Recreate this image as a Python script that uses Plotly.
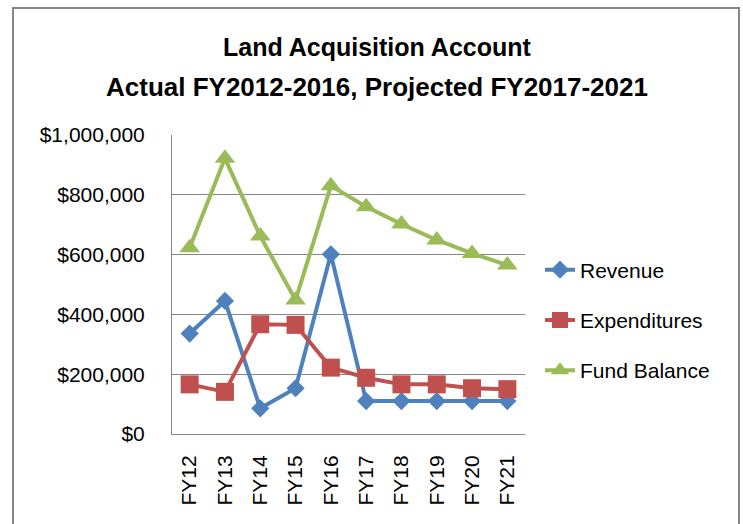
import plotly.graph_objects as go

categories = ["FY12", "FY13", "FY14", "FY15", "FY16", "FY17", "FY18", "FY19", "FY20", "FY21"]
revenue = [336000, 445000, 86000, 153000, 601000, 110000, 110000, 110000, 110000, 110000]
expenditures = [166000, 141000, 367000, 365000, 222000, 188000, 166000, 166000, 153000, 150000]
fund_balance = [623000, 922000, 662000, 448000, 830000, 760000, 702000, 649000, 604000, 565000]

title_line1 = "Land Acquisition Account"
title_line2 = "Actual FY2012-2016, Projected FY2017-2021"

FONT = "Liberation Sans, Arial, sans-serif"
W, H = 743, 524
ML, MR, MT, MB = 172, 218, 135, 90
PW, PH = W - ML - MR, H - MT - MB


def px_x(x):
    return (x - ML) / PW


def px_y(y):
    return (H - MB - y) / PH


fig = go.Figure()
fig.add_trace(go.Scatter(
    x=categories, y=revenue, name="Revenue", mode="lines+markers",
    line=dict(color="#4F81BD", width=4),
    marker=dict(symbol="diamond", size=14, color="#4F81BD"),
    legendgroup="r",
))
fig.add_trace(go.Scatter(
    x=categories, y=expenditures, name="Expenditures", mode="lines+markers",
    line=dict(color="#C0504D", width=4),
    marker=dict(symbol="square", size=18, color="#C0504D"),
    legendgroup="e",
))
fig.add_trace(go.Scatter(
    x=categories, y=fund_balance, name="Fund Balance", mode="lines+markers",
    line=dict(color="#9BBB59", width=4),
    marker=dict(symbol="triangle-up", size=18, color="#9BBB59"),
    legendgroup="f",
))

fig.update_layout(
    width=W, height=H,
    margin=dict(l=ML, r=MR, t=MT, b=MB),
    paper_bgcolor="white", plot_bgcolor="white",
    font=dict(family=FONT, size=21, color="#000000"),
    showlegend=True,
    legend=dict(
        x=px_x(540), xanchor="left", y=px_y(320), yanchor="middle",
        font=dict(family=FONT, size=21, color="#000000"),
        tracegroupgap=20, bgcolor="rgba(0,0,0,0)",
    ),
    xaxis=dict(
        type="category", range=[-0.5, len(categories) - 0.5],
        tickangle=-90, showgrid=False,
        showline=True, linecolor="#868686", linewidth=1,
        ticks="", ticklabelstandoff=12,
        tickfont=dict(family=FONT, size=21, color="#000000"),
    ),
    yaxis=dict(
        range=[0, 1000000], dtick=200000, tickformat="$,.0f",
        showgrid=True, gridcolor="#868686", gridwidth=1,
        showline=True, linecolor="#868686", linewidth=1,
        zeroline=False, ticks="", ticklabelstandoff=22,
        tickfont=dict(family=FONT, size=21, color="#000000"),
    ),
    annotations=[
        dict(text="<b>" + title_line1 + "</b>", xref="paper", yref="paper",
             x=px_x(377), y=px_y(47), xanchor="center", yanchor="middle",
             showarrow=False, font=dict(family=FONT, size=25, color="#000000")),
        dict(text="<b>" + title_line2 + "</b>", xref="paper", yref="paper",
             x=px_x(377), y=px_y(87), xanchor="center", yanchor="middle",
             showarrow=False, font=dict(family=FONT, size=26, color="#000000")),
    ],
    shapes=[
        dict(type="rect", xref="paper", yref="paper",
             x0=px_x(13), x1=px_x(739), y0=px_y(540), y1=px_y(8),
             line=dict(color="#868686", width=2), fillcolor="rgba(0,0,0,0)",
             layer="below"),
    ],
)

fig.write_html(
    "out.html",
    config={"displayModeBar": False},
    post_script="document.body.style.margin='0';document.body.style.overflow='hidden';",
)
